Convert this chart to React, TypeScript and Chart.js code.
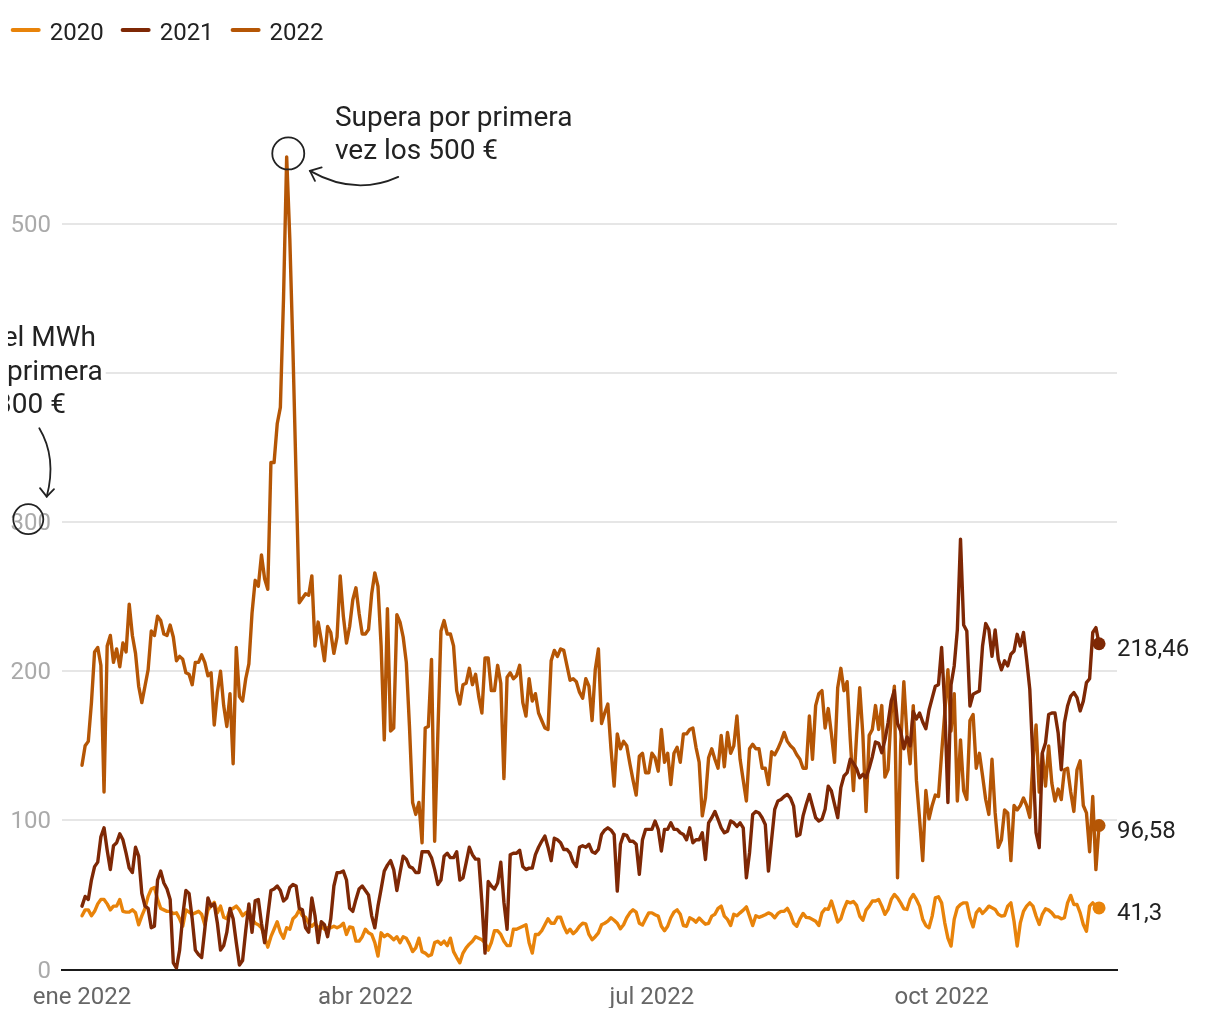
import React, { useEffect, useRef } from "react";
import { Chart, registerables } from "chart.js";

Chart.register(...registerables);

// ---- data (daily values, index 0 = 1 Jan) ----
const SERIES = ["2020", "2021", "2022"];
const COLORS = ["#e8830a", "#7e2805", "#b55605"];
const END_LABELS = ["41,3", "218,46", "96,58"];

const P2020 = [
  36, 40, 40, 36, 39, 44, 47, 47, 44, 40,
  42.5, 42.5, 47, 39, 38.5, 38.5, 40, 38, 30, 36,
  41, 49, 54, 55, 47, 41, 40, 39, 39, 37.5,
  38, 34, 29, 40, 38.5, 37, 38, 39, 37, 30,
  40, 42.5, 45, 38, 42.5, 35, 34, 40, 41, 42.5,
  40, 36, 38, 39, 34, 31, 30, 28, 22, 15,
  22, 27, 32, 25, 21, 28, 27, 34, 36, 40,
  36, 35, 31, 29, 31, 28, 29, 27, 28, 28,
  29, 28, 29, 31, 23.5, 28.6, 28, 19, 19, 22,
  27, 24.6, 23.5, 18, 9, 24.6, 22, 23.5, 22, 20,
  22, 18, 22, 21, 17, 12, 14.5, 21, 12, 11,
  9, 10, 18, 19, 17, 19, 16, 21, 12, 8,
  4.5, 11, 14.5, 17, 19, 22, 21, 20, 18, 13,
  18, 26, 26, 23.5, 19, 16, 16, 27, 27, 28,
  29, 30, 18, 11, 23.5, 23.5, 26, 30, 34, 31,
  31, 35, 35, 29, 24.6, 27, 24, 26, 29, 31,
  30.6, 23.5, 20, 22, 24.6, 30, 31, 32.4, 34.7, 33,
  31, 27.3, 30, 34.7, 38, 40, 38.5, 31, 29.8, 34,
  38, 38, 36.7, 35.8, 29, 26, 29, 34.7, 38.5, 40,
  37, 29.5, 29, 34.7, 33.6, 31.8, 34.5, 32.4, 30.4, 31,
  35.8, 37, 41, 42.5, 35.8, 33.6, 29.5, 37, 36, 38,
  39.8, 42, 35.8, 29.5, 36, 35, 35.8, 36.7, 38, 37,
  34.7, 37.6, 39, 39, 41, 37, 31, 29, 34, 37.6,
  35, 34.7, 33.6, 32.4, 29.5, 38, 40.7, 40.3, 45.9, 39,
  31.8, 34, 40.7, 45.6, 44.7, 45.6, 43, 35.8, 33, 39.8,
  42.5, 45.9, 45.9, 47, 42.5, 37, 40.3, 47, 50.3, 48,
  44.7, 40.7, 40.3, 47, 50.3, 47, 42.5, 33.6, 29.5, 28,
  35.8, 48, 48.8, 44.7, 31.3, 21, 15.7, 33.6, 41.4, 43.6,
  44.7, 44.7, 34.7, 28.6, 38, 40.7, 37.6, 39.8, 42.5, 41.4,
  40.3, 37, 35.8, 36.2, 42.5, 44.7, 32.4, 15.7, 31.3, 39,
  42.5, 44.7, 42.5, 35.8, 30.2, 37, 40.7, 39.8, 38, 35.3,
  35.3, 34, 34.7, 44.7, 49.7, 43.6, 43.6, 38, 30.2, 25.7,
  42.5, 44.7, 42.5, 41.3,
];

const P2021 = [
  42.5, 49, 47, 60, 69, 72, 89, 95, 80, 67,
  83, 85, 91, 87, 78, 68, 65, 82, 76, 51,
  42.5, 41, 28, 29, 60, 66, 58, 54, 47, 4.5,
  1, 13, 36, 53, 51, 34, 13, 10, 8, 27,
  48, 42.5, 44, 31, 13, 16, 25, 41, 34, 18,
  3, 6, 26, 44, 25, 46, 47, 31, 18, 36,
  53, 54, 56, 53, 46, 48, 55, 57, 56, 41,
  40, 28, 25, 48, 36, 18, 32, 30, 22, 34,
  56, 65, 65, 66, 60, 41, 39, 47, 54, 56,
  53, 50, 36, 28, 42.5, 54, 66, 70, 73, 67,
  53, 65, 76, 74, 69, 68, 65, 65, 79, 79,
  79, 75, 67, 57, 60, 76, 78, 75, 75, 79,
  60, 61.5, 71.6, 82, 77, 74, 74, 45, 11, 59,
  56, 54, 58, 72, 45, 27, 77, 78, 78, 80,
  69, 67, 68, 68, 77, 82, 86, 89.5, 82, 73,
  88, 87, 85, 80.5, 80.5, 78, 72, 69, 82, 83,
  82, 84, 79, 78, 80.5, 90.6, 93.5, 95, 93.5, 90.6,
  52.6, 84, 90.6, 90, 86, 86, 84, 63.8, 87, 94,
  94, 94, 99.6, 94, 79.4, 94, 94, 98.4, 94, 94,
  91.7, 90.6, 87, 95, 85, 87, 87, 91.7, 73.8, 98.4,
  101.8, 106, 100.7, 95, 91.7, 92.8, 99.6, 98.4, 96, 98.4,
  95, 61.5, 78.3, 104, 106, 105, 101.8, 97.3, 66, 87,
  107.4, 113, 114, 116, 117.4, 115, 109.6, 89.5, 90.6, 103,
  110.7, 117.4, 109.6, 101.8, 99.6, 100.7, 107.4, 123, 119.7, 110.7,
  101.8, 122, 129.8, 132, 141, 138.3, 134.7, 128.6, 130.9, 128.6,
  135, 142.7, 152.6, 151.7, 145.4, 154, 165.5, 180, 187, 165,
  160, 148, 156, 150, 173, 168, 172, 166, 161.5, 174,
  182, 190, 191, 216, 176.7, 112, 191, 203.6, 228, 288.6,
  231, 227, 176.7, 184.6, 185.7, 186.8, 217, 232, 228, 210,
  227.7, 208, 201, 207, 203.6, 211.4, 213.6, 224.8, 217, 226,
  208, 188, 141, 91.7, 81.7, 145.4, 152, 171, 172, 172,
  158.8, 134, 165.5, 176.7, 183.4, 185.7, 182.3, 173.4, 180, 192.4,
  195, 226, 229.3, 218.46,
];

const P2022 = [
  137, 150, 153, 179, 213, 216, 204, 119, 217, 224,
  206, 215, 203, 219, 213, 245, 224, 212, 190, 179,
  190, 201, 227, 224, 237, 234, 225, 224, 231, 223,
  207, 210, 208, 199, 198, 191, 206, 206, 211, 206,
  197, 199, 164, 186, 200, 177, 163, 185, 138, 216,
  183, 180, 195, 205, 239, 261, 257, 278, 262, 255,
  340, 340, 366, 377, 450, 545, 490, 415, 330, 246,
  249, 252, 251, 264, 217, 233, 221, 207, 230, 226,
  212, 223, 264, 237, 219, 230, 248, 256, 239, 225,
  225, 228, 252, 266, 257, 217, 154, 242, 160, 162,
  238, 233, 223, 206, 163, 112, 104, 112, 85, 162,
  163, 208, 86, 157, 227, 234, 225, 225, 217, 187,
  178, 191, 192, 202, 191, 198, 183, 172, 209, 209,
  187, 187, 204, 192, 128, 196, 199, 195, 197, 204,
  179, 170, 195, 180, 185, 172, 167, 162, 161, 207,
  214, 210, 215, 214, 204, 194, 195, 193, 186, 182,
  195, 190, 167, 201, 215, 165, 172, 178, 148, 123,
  158, 148, 153, 150, 138, 127, 117, 143, 145, 132,
  132, 145, 142, 133, 161, 139, 145, 124, 145, 149,
  139, 158, 158, 161, 162, 149, 139, 103, 115, 142,
  148, 141, 135, 157, 136, 159, 145, 150, 170, 141,
  127, 113, 148, 151, 148, 148, 135, 135, 124, 146,
  144, 148, 153, 159, 153, 150, 148, 144, 141, 135,
  135, 170, 141, 177, 185, 187, 162, 175, 158, 139,
  189, 202, 187, 193, 154, 120, 157, 189, 157, 106,
  157, 161, 177, 161, 177, 129, 134, 172, 190, 61.5,
  150, 193, 157, 138, 177, 127, 101, 73, 120, 101,
  110, 117, 116, 145, 172, 201, 160, 185, 113, 154,
  120, 114, 167, 171, 135, 145, 130, 114, 104, 141,
  105, 82, 87, 107, 105, 73, 110, 107, 110, 115,
  110, 102, 140, 164, 119, 145, 123, 150, 125, 113,
  121, 114, 134, 135, 119, 106, 134, 140, 110, 105,
  79, 116, 67, 96.58,
];

const X_TICK_DAYS = [0, 90, 181, 273];
const X_TICK_LABELS = ["ene 2022", "abr 2022", "jul 2022", "oct 2022"];
const Y_TICKS = [0, 100, 200, 300, 400, 500];
const PEAK_NOTE = ["Supera por primera", "vez los 500 €"];
const EDGE_NOTE = ["del MWh", "supera por primera", "vez los 300 €"];

const FONT = "Roboto, 'Liberation Sans', sans-serif";
const W = 1204;
const H = 1000;

export default function App() {
  const ref = useRef<HTMLCanvasElement>(null);

  useEffect(() => {
    const canvas = ref.current;
    if (!canvas) return;
    const all = [P2020, P2021, P2022];
    const drawOrder = [2, 0, 1];

    const datasets = all.map((arr, i) => ({
      label: SERIES[i],
      data: arr.map((y, d) => ({ x: d, y })),
      borderColor: COLORS[i],
      backgroundColor: COLORS[i],
      borderWidth: 3.4,
      borderJoinStyle: "round" as const,
      borderCapStyle: "round" as const,
      tension: 0,
      fill: false,
      pointRadius: (c: any) => (c.dataIndex === arr.length - 1 ? 6.5 : 0),
      pointHoverRadius: 0,
      pointBorderWidth: 0,
      pointBackgroundColor: COLORS[i],
      order: drawOrder[i],
    }));

    const overlay = {
      id: "overlay",
      afterDraw(chart: any) {
        const ctx = chart.ctx as CanvasRenderingContext2D;
        const xs = chart.scales.x;
        const ys = chart.scales.y;
        ctx.save();

        // legend
        ctx.font = `24px ${FONT}`;
        ctx.textBaseline = "alphabetic";
        ctx.textAlign = "left";
        let lx = 2.7;
        SERIES.forEach((name, i) => {
          ctx.strokeStyle = COLORS[i];
          ctx.lineWidth = 4;
          ctx.lineCap = "round";
          ctx.beginPath();
          ctx.moveTo(lx + 2, 22);
          ctx.lineTo(lx + 28, 22);
          ctx.stroke();
          ctx.fillStyle = "#222";
          ctx.fillText(name, lx + 39, 32);
          lx = lx + 39 + ctx.measureText(name).width + 17;
        });

        // end labels
        ctx.font = `24px ${FONT}`;
        ctx.textBaseline = "middle";
        ctx.fillStyle = "#222";
        all.forEach((arr, i) => {
          const meta = chart.getDatasetMeta(i);
          const pt = meta.data[arr.length - 1];
          ctx.fillText(END_LABELS[i], pt.x + 18, pt.y + 6.5);
        });

        // peak annotation
        let peak = 0;
        P2022.forEach((v, i) => {
          if (v > P2022[peak]) peak = i;
        });
        const px = xs.getPixelForValue(peak);
        const py = ys.getPixelForValue(P2022[peak]);
        ctx.strokeStyle = "#222";
        ctx.lineWidth = 1.8;
        ctx.lineCap = "round";
        ctx.beginPath();
        ctx.arc(px + 1.6, py - 3.4, 16, 0, Math.PI * 2);
        ctx.stroke();
        ctx.beginPath();
        ctx.moveTo(px + 111.6, py + 20);
        ctx.quadraticCurveTo(px + 68.3, py + 39.6, px + 23.3, py + 14);
        ctx.stroke();
        ctx.beginPath();
        ctx.moveTo(px + 35, py + 10.6);
        ctx.lineTo(px + 23.3, py + 14);
        ctx.lineTo(px + 28.3, py + 24);
        ctx.stroke();
        ctx.font = `28px ${FONT}`;
        ctx.textBaseline = "alphabetic";
        ctx.textAlign = "left";
        ctx.fillStyle = "#222";
        ctx.fillText(PEAK_NOTE[0], px + 48.3, py - 30.7);
        ctx.fillText(PEAK_NOTE[1], px + 48.3, py + 2.6);

        // clipped note at the left edge
        const y400 = ys.getPixelForValue(400);
        const bases = [y400 - 26.6, y400 + 6.7, y400 + 40];
        const rights = [88, 94.7, 58];
        ctx.textAlign = "right";
        EDGE_NOTE.forEach((t, i) => {
          ctx.fillStyle = "#fff";
          ctx.fillRect(0, bases[i] - 24, rights[i] + 3, 32);
        });
        EDGE_NOTE.forEach((t, i) => {
          ctx.fillStyle = "#222";
          ctx.fillText(t, rights[i], bases[i]);
        });
        const y300 = ys.getPixelForValue(300);
        const cx = 20.3;
        const cy = y300 - 3;
        ctx.beginPath();
        ctx.arc(cx, cy, 15, 0, Math.PI * 2);
        ctx.stroke();
        ctx.beginPath();
        ctx.moveTo(cx + 11, cy - 91);
        ctx.quadraticCurveTo(cx + 28.7, cy - 61.7, cx + 18.4, cy - 22.5);
        ctx.stroke();
        ctx.beginPath();
        ctx.moveTo(cx + 11.7, cy - 31);
        ctx.lineTo(cx + 18.4, cy - 22.5);
        ctx.lineTo(cx + 25.7, cy - 30);
        ctx.stroke();

        ctx.restore();
      },
    };

    const chart = new Chart(canvas, {
      type: "line",
      data: { datasets: datasets as any },
      options: {
        animation: false,
        responsive: false,
        devicePixelRatio: 1,
        events: [],
        layout: { padding: { top: 126.5, right: 95, left: 0, bottom: 0 } },
        plugins: {
          legend: { display: false },
          tooltip: { enabled: false },
        },
        scales: {
          x: {
            type: "linear",
            min: -6.35,
            max: 328.7,
            grid: { display: false, drawTicks: false },
            border: { display: true, color: "#1a1a1a", width: 2 },
            ticks: {
              padding: 14,
              color: "#666",
              font: { family: FONT, size: 24 },
              autoSkip: false,
              maxRotation: 0,
              callback: (v: any) => {
                const k = X_TICK_DAYS.indexOf(Number(v));
                return k >= 0 ? X_TICK_LABELS[k] : "";
              },
            },
            afterBuildTicks: (s: any) => {
              s.ticks = X_TICK_DAYS.map((v) => ({ value: v }));
            },
            afterFit: (s: any) => {
              s.height = H - 961.5;
            },
          },
          y: {
            type: "linear",
            min: 0,
            max: 560,
            grid: { color: "#e6e6e6", lineWidth: 2, drawTicks: false },
            border: { display: false },
            ticks: {
              padding: 11,
              labelOffset: 2,
              color: "#aaa",
              font: { family: FONT, size: 24 },
              callback: (v: any) => String(v),
            },
            afterBuildTicks: (s: any) => {
              s.ticks = Y_TICKS.map((v) => ({ value: v }));
            },
            afterFit: (s: any) => {
              s.width = 54;
            },
          },
        },
      },
      plugins: [overlay],
    });

    return () => chart.destroy();
  }, []);

  return (
    <canvas
      ref={ref}
      width={W}
      height={H}
      style={{ display: "block", width: W, height: H }}
    />
  );
}
